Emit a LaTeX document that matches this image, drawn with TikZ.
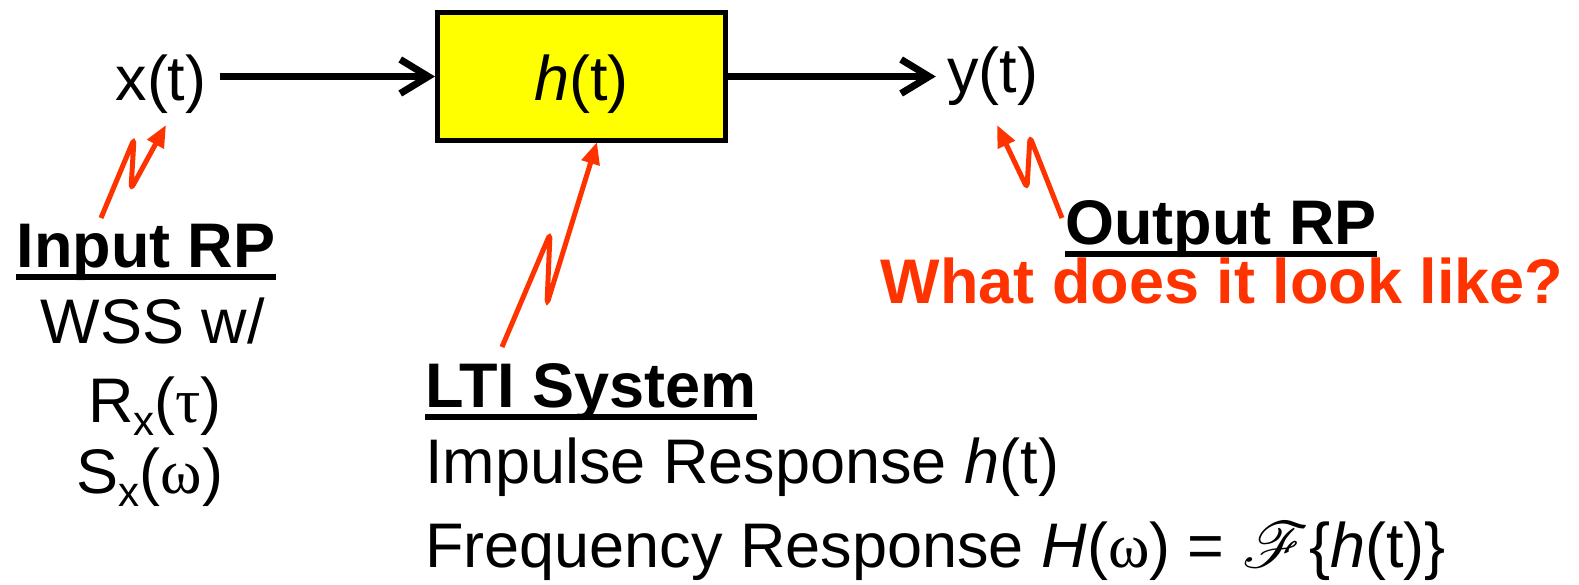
\documentclass[tikz,border=0pt]{standalone}
\usepackage{fontspec}
\setmainfont{Liberation Sans}
\newfontfamily\grk{Liberation Serif}
\usepackage{mathrsfs}
\usepackage{graphicx}
\usetikzlibrary{arrows.meta}
\definecolor{boltred}{RGB}{255,51,0}
\definecolor{boxyellow}{RGB}{255,255,0}
\newcommand{\subx}{\raisebox{-13pt}{\fontsize{42}{42}\selectfont x}}
\newcommand{\fourierF}{\scalebox{2.6}{$\mathscr{F}$}}
\tikzset{
  txt/.style={inner sep=0pt, anchor=base, font=\fontsize{63}{70}\selectfont},
  ltxt/.style={txt, anchor=base west},
  head/.style={txt, font=\fontsize{63}{70}\selectfont\bfseries},
  lhead/.style={head, anchor=base west},
  uline/.style={line width=6pt},
  sysbox/.style={draw, line width=5pt, fill=boxyellow, minimum width=288pt, minimum height=128pt,
    inner sep=0pt, text height=47pt, text depth=0pt, font=\fontsize{63}{70}\selectfont},
  flow/.style={line width=7pt, -{Straight Barb[length=28pt,width=34pt,line width=7pt]}},
  bolt/.style={draw=boltred, line width=5pt, rounded corners=5pt, -{Triangle[length=22pt,width=18pt]}}
}
\begin{document}
\begin{tikzpicture}[x=1pt,y=-1pt]
\useasboundingbox (0,0) rectangle (1579,584);
% signal chain
\node[txt, inner xsep=13pt] (xt) at (161,100) {x(t)};
\node[sysbox] (box) at (581.5,76.5) {\textit{h}(t)};
\node[txt, inner xsep=11pt] (yt) at (992.5,92) {y(t)};
\draw[flow] (xt.east |- box.west) -- (box.west);
\draw[flow] (box.east) -- (yt.west |- box.east);
% input description
\node[head] (inrp) at (146,267) {Input RP};
\draw[uline] ([yshift=-10pt]inrp.base west) -- ([yshift=-10pt]inrp.base east);
\node[txt] (wss) at (153,343) {WSS w/};
\node[txt] (rx) at (155,422) {R\subx({\grk τ})};
\node[txt] (sx) at (150,493) {S\subx({\grk ω})};
% LTI description
\node[lhead] (lti) at (425,407) {LTI System};
\draw[uline] ([yshift=-10pt]lti.base west) -- ([yshift=-10pt]lti.base east);
\node[ltxt] (imp) at (425,483) {Impulse Response \textit{h}(t)};
\node[ltxt] (freq) at (425,567) {Frequency Response \textit{H}({\grk ω}) = \fourierF\{\textit{h}(t)\}};
% output description
\node[head] (outrp) at (1221,244) {Output RP};
\draw[uline] ([yshift=-10pt]outrp.base west) -- ([yshift=-10pt]outrp.base east);
\node[head, text=boltred] (what) at (1222,303) {What does it look like?};
% lightning arrows
\coordinate (inS) at (101,218);
\coordinate (inT) at (166,125);
\draw[bolt] (inS) -- (134,139) -- (131,189) -- (inT);
\coordinate (ltiS) at (502,347);
\coordinate (ltiT) at (597,142);
\draw[bolt] (ltiS) -- (550,234) -- (547,304) -- (ltiT);
\coordinate (outS) at (1062,218);
\coordinate (outT) at (997,125);
\draw[bolt] (outS) -- (1030,137) -- (1027,188) -- (outT);
\end{tikzpicture}
\end{document}
